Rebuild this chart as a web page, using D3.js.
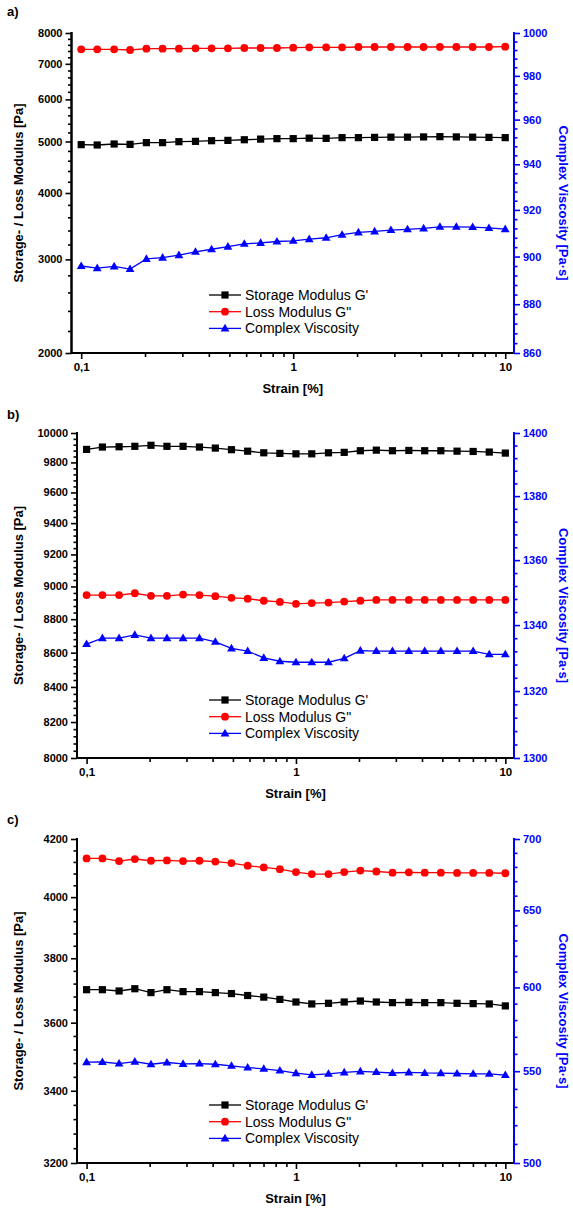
<!DOCTYPE html>
<html><head><meta charset="utf-8">
<script src="https://cdn.jsdelivr.net/npm/d3@7"></script>
<style>
html,body{margin:0;padding:0;background:#fff;}
svg{display:block;font-family:"Liberation Sans",Arial,sans-serif;}
</style></head>
<body>
<svg id="chart" width="573" height="1212"></svg>
<script>
// ---------- data ----------
const strain = [0.1, 0.119, 0.143, 0.170, 0.203, 0.242, 0.289, 0.346, 0.412, 0.492, 0.588, 0.702, 0.838,
  1.00, 1.19, 1.43, 1.70, 2.03, 2.42, 2.89, 3.46, 4.12, 4.92, 5.88, 7.02, 8.38, 10.0];

const aStorage = [4932, 4925, 4946, 4938, 4975, 4975, 4996, 5003, 5017, 5024, 5038, 5052, 5062,
  5062, 5073, 5068, 5084, 5084, 5090, 5095, 5095, 5100, 5106, 5100, 5095, 5090, 5084];
const aLoss = [7454, 7454, 7454, 7432, 7475, 7475, 7475, 7486, 7486, 7486, 7497, 7497, 7497,
  7508, 7519, 7519, 7519, 7530, 7530, 7530, 7530, 7530, 7530, 7530, 7530, 7530, 7541];
const aViscosity = [896.0, 895.1, 895.8, 894.7, 899.0, 899.5, 900.6, 902.0, 903.1, 904.2, 905.4, 905.8, 906.4,
  906.7, 907.4, 908.0, 909.3, 910.3, 910.7, 911.3, 911.6, 912.0, 912.7, 912.7, 912.6, 912.2, 911.7];

const bStorage = [9888, 9904, 9906, 9909, 9916, 9909, 9909, 9904, 9897, 9886, 9876, 9865, 9861,
  9858, 9858, 9865, 9868, 9879, 9883, 9879, 9881, 9879, 9879, 9876, 9874, 9870, 9863];
const bLoss = [8947, 8947, 8947, 8958, 8942, 8942, 8950, 8947, 8940, 8930, 8925, 8912, 8905,
  8893, 8898, 8901, 8907, 8912, 8917, 8917, 8917, 8917, 8917, 8917, 8917, 8917, 8917];
const bViscosity = [1334.2, 1336.0, 1336.0, 1337.0, 1336.0, 1336.0, 1336.0, 1336.0, 1334.9, 1332.9, 1332.1, 1330.0, 1329.0,
  1328.7, 1328.7, 1328.7, 1329.9, 1332.2, 1332.1, 1332.1, 1332.1, 1332.1, 1332.1, 1332.1, 1332.1, 1331.1, 1331.1];

const cStorage = [3701, 3701, 3697, 3704, 3692, 3701, 3695, 3695, 3692, 3689, 3683, 3678, 3671,
  3663, 3657, 3659, 3663, 3666, 3663, 3661, 3662, 3661, 3661, 3659, 3658, 3657, 3651];
const cLoss = [4132, 4132, 4123, 4130, 4124, 4125, 4123, 4124, 4121, 4116, 4107, 4101, 4095,
  4085, 4078, 4078, 4085, 4090, 4087, 4083, 4084, 4083, 4083, 4082, 4082, 4082, 4081];
const cViscosity = [555.2, 555.3, 554.4, 555.5, 554.0, 555.0, 554.2, 554.4, 554.0, 553.1, 552.1, 551.4, 550.4,
  548.9, 547.9, 548.5, 549.3, 549.9, 549.5, 549.0, 549.3, 549.0, 548.9, 548.7, 548.5, 548.5, 547.8];

const xTicks = [0.1, 1, 10];
const xTickLabels = ["0,1", "1", "10"];
const aLeftTicks = [2000, 3000, 4000, 5000, 6000, 7000, 8000];
const aRightTicks = [860, 880, 900, 920, 940, 960, 980, 1000];
const bLeftTicks = [8000, 8200, 8400, 8600, 8800, 9000, 9200, 9400, 9600, 9800, 10000];
const bRightTicks = [1300, 1320, 1340, 1360, 1380, 1400];
const cLeftTicks = [3200, 3400, 3600, 3800, 4000, 4200];
const cRightTicks = [500, 550, 600, 650, 700];

const seriesNames = ["Storage Modulus G'", "Loss Modulus G\"", "Complex Viscosity"];
const leftTitle = "Storage- / Loss Modulus [Pa]";
const rightTitle = "Complex Viscosity [Pa\u00b7s]";
const xTitle = "Strain [%]";

// ---------- drawing ----------
const svg = d3.select("#chart");
const BLUE = "#0000ff", RED = "#ff0000", BLACK = "#000000";

const panels = [
  {tag: "a)", tagY: 16, left: 71.5, right: 514, top: 33, bottom: 353,
   s: aStorage, l: aLoss, v: aViscosity, lt: aLeftTicks, rt: aRightTicks, legY: 295},
  {tag: "b)", tagY: 419, left: 77, right: 514, top: 433, bottom: 758,
   s: bStorage, l: bLoss, v: bViscosity, lt: bLeftTicks, rt: bRightTicks, legY: 700},
  {tag: "c)", tagY: 824, left: 77, right: 514, top: 839, bottom: 1163,
   s: cStorage, l: cLoss, v: cViscosity, lt: cLeftTicks, rt: cRightTicks, legY: 1105}
];

function minorTicks(major, n) {
  const out = [];
  for (let i = 0; i < major.length - 1; i++) {
    const step = (major[i + 1] - major[i]) / (n + 1);
    for (let k = 1; k <= n; k++) out.push(major[i] + k * step);
  }
  return out;
}
const xMinor = [];
[0.1, 1].forEach(d => { for (let k = 2; k <= 9; k++) xMinor.push(d * k); });

function marker(sel, type, color, x, y) {
  if (type === "square") {
    sel.append("rect").attr("x", x - 3.6).attr("y", y - 3.6).attr("width", 7.2).attr("height", 7.2).attr("fill", color);
  } else if (type === "circle") {
    sel.append("circle").attr("cx", x).attr("cy", y).attr("r", 3.9).attr("fill", color);
  } else {
    sel.append("path").attr("d", `M${x},${y - 4.6}L${x + 4.4},${y + 3}L${x - 4.4},${y + 3}Z`).attr("fill", color);
  }
}

panels.forEach(p => {
  const g = svg.append("g");
  const x = d3.scaleLog().domain([0.09, 11]).range([p.left, p.right]);
  const yL = d3.scaleLog().domain([p.lt[0], p.lt[p.lt.length - 1]]).range([p.bottom, p.top]);
  const yR = d3.scaleLog().domain([p.rt[0], p.rt[p.rt.length - 1]]).range([p.bottom, p.top]);

  // panel tag
  g.append("text").attr("x", 7).attr("y", p.tagY).attr("font-size", 13).attr("font-weight", "bold").text(p.tag);

  // series
  const series = [
    {vals: p.s, y: yL, color: BLACK, type: "square"},
    {vals: p.l, y: yL, color: RED, type: "circle"},
    {vals: p.v, y: yR, color: BLUE, type: "triangle"}
  ];
  series.forEach(s => {
    const line = d3.line().x((d, i) => x(strain[i])).y(d => s.y(d));
    g.append("path").datum(s.vals).attr("d", line).attr("fill", "none").attr("stroke", s.color).attr("stroke-width", 1.3);
    const mg = g.append("g");
    s.vals.forEach((d, i) => marker(mg, s.type, s.color, x(strain[i]), s.y(d)));
  });

  // x axis
  const xa = g.append("g").attr("transform", `translate(0,${p.bottom})`);
  xa.call(d3.axisBottom(x).tickValues(xTicks).tickFormat((d, i) => xTickLabels[i]).tickSize(6).tickPadding(4));
  const xm = g.append("g").attr("transform", `translate(0,${p.bottom})`);
  xm.call(d3.axisBottom(x).tickValues(xMinor).tickFormat("").tickSize(4));
  [xa, xm].forEach(a => {
    a.select(".domain").attr("stroke", BLACK).attr("stroke-width", 2).attr("d", `M${p.left - 1},0H${p.right}`);
    a.selectAll(".tick line").attr("stroke", BLACK).attr("stroke-width", 1.6);
  });
  xa.selectAll(".tick text").attr("font-size", 11.5).attr("font-weight", "bold").attr("font-family", "Liberation Sans, Arial, sans-serif").attr("fill", BLACK);

  // left axis
  const la = g.append("g").attr("transform", `translate(${p.left},0)`);
  la.call(d3.axisLeft(yL).tickValues(p.lt).tickFormat(d3.format("d")).tickSize(6).tickPadding(3));
  const lm = g.append("g").attr("transform", `translate(${p.left},0)`);
  lm.call(d3.axisLeft(yL).tickValues(minorTicks(p.lt, 4)).tickFormat("").tickSize(3.5));
  [la, lm].forEach(a => {
    a.select(".domain").attr("stroke", BLACK).attr("stroke-width", 2).attr("d", `M0,${p.top - 1}V${p.bottom + 1}`);
    a.selectAll(".tick line").attr("stroke", BLACK).attr("stroke-width", 1.6);
  });
  la.selectAll(".tick text").attr("font-size", 11).attr("font-weight", "bold").attr("font-family", "Liberation Sans, Arial, sans-serif").attr("fill", BLACK);

  // right axis
  const ra = g.append("g").attr("transform", `translate(${p.right},0)`);
  ra.call(d3.axisRight(yR).tickValues(p.rt).tickFormat(d3.format("d")).tickSize(6).tickPadding(3));
  const rm = g.append("g").attr("transform", `translate(${p.right},0)`);
  rm.call(d3.axisRight(yR).tickValues(minorTicks(p.rt, 4)).tickFormat("").tickSize(3.5));
  [ra, rm].forEach(a => {
    a.select(".domain").attr("stroke", BLUE).attr("stroke-width", 2).attr("d", `M0,${p.top - 1}V${p.bottom + 1}`);
    a.selectAll(".tick line").attr("stroke", BLUE).attr("stroke-width", 1.6);
  });
  ra.selectAll(".tick text").attr("font-size", 11).attr("font-weight", "bold").attr("font-family", "Liberation Sans, Arial, sans-serif").attr("fill", BLUE);

  // titles
  const midY = (p.top + p.bottom) / 2;
  g.append("text").attr("transform", `translate(23,${midY}) rotate(-90)`).attr("text-anchor", "middle")
    .attr("font-size", 13).attr("font-weight", "bold").text(leftTitle);
  g.append("text").attr("transform", `translate(559,${midY + 10}) rotate(90)`).attr("text-anchor", "middle")
    .attr("font-size", 13).attr("font-weight", "bold").attr("fill", BLUE).text(rightTitle);
  g.append("text").attr("x", (p.left + p.right) / 2).attr("y", p.bottom + 40).attr("text-anchor", "middle")
    .attr("font-size", 13).attr("font-weight", "bold").text(xTitle);

  // legend
  const lg = g.append("g");
  const legTypes = [["square", BLACK], ["circle", RED], ["triangle", BLUE]];
  legTypes.forEach((t, i) => {
    const yy = p.legY + i * 16.7;
    lg.append("line").attr("x1", 209).attr("x2", 241).attr("y1", yy).attr("y2", yy).attr("stroke", t[1]).attr("stroke-width", 1.3);
    marker(lg, t[0], t[1], 225, yy);
    lg.append("text").attr("x", 245).attr("y", yy + 5).attr("font-size", 14).attr("fill", BLACK).text(seriesNames[i]);
  });
});
</script>
</body></html>
